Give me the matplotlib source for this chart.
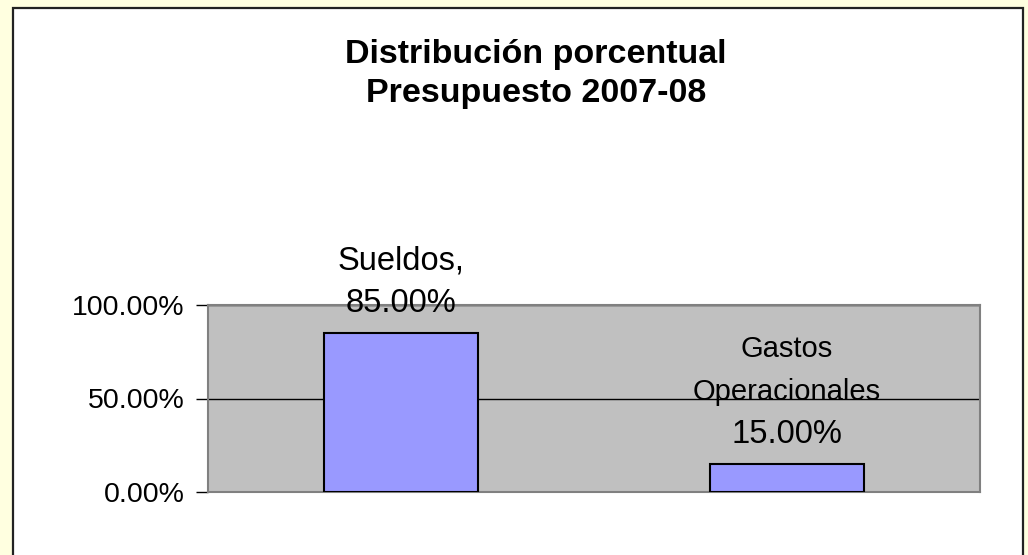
"""Distribución porcentual del presupuesto 2007-08."""
import matplotlib
matplotlib.use("Agg")
import matplotlib.pyplot as plt
from matplotlib.patches import Rectangle
from matplotlib.ticker import PercentFormatter

categorias = ["Sueldos,", "Gastos\nOperacionales"]
porcentajes = [0.85, 0.15]
ticks_y = [0.0, 0.5, 1.0]
titulo = ["Distribución porcentual", "Presupuesto 2007-08"]

W, H = 1028, 555
plt.rcParams["font.family"] = ["Liberation Sans", "DejaVu Sans"]

fig = plt.figure(figsize=(W / 100, H / 100), dpi=100, facecolor="#FFFFE0")

# white chart box with dark border (bottom edge runs off the picture)
fig.patches.append(Rectangle((12.5 / W, -0.05), (1023 - 12.5) / W, 1.05 - 8 / H,
                             transform=fig.transFigure, facecolor="white",
                             edgecolor="#222222", lw=1.6, zorder=-1))

ax = fig.add_axes([208 / W, 1 - 492 / H, (980 - 208) / W, (492 - 305) / H])
ax.set_facecolor("#C0C0C0")
ax.set_axisbelow(True)

x = range(len(categorias))
ax.bar(x, porcentajes, width=0.4, color="#9999FF", edgecolor="black", lw=1.5,
       zorder=2)
ax.set_xlim(-0.5, 1.5)
ax.set_ylim(0, 1)
ax.set_yticks(ticks_y)
ax.yaxis.set_major_formatter(PercentFormatter(1.0, decimals=2))
ax.tick_params(axis="y", length=9, width=1, color="black", pad=8,
               labelsize=20.5)
ax.tick_params(axis="x", length=0, labelbottom=False)
ax.yaxis.grid(True, color="black", lw=1)
for s in ax.spines.values():
    s.set_color("#808080")
    s.set_linewidth(1.5)
    s.set_zorder(1.5)

# data labels: value just above the bar, category name lines above it
for i, (cat, v) in enumerate(zip(categorias, porcentajes)):
    ax.annotate(f"{v * 100:.2f}%", (i, v), xytext=(0, 21),
                textcoords="offset pixels", ha="center", va="baseline",
                fontsize=23.5, zorder=5)
    lineas = cat.split("\n")
    size = 23.5 if len(lineas) == 1 else 21
    for k, txt in enumerate(reversed(lineas)):
        ax.annotate(txt, (i, v), xytext=(0, 21 + 43 * (k + 1)),
                    textcoords="offset pixels", ha="center", va="baseline",
                    fontsize=size, zorder=5)

for k, (txt, yb) in enumerate(zip(titulo, [63, 102])):
    fig.text(536 / W, 1 - yb / H, txt, ha="center", va="baseline",
             fontsize=24.5, fontweight="bold")

fig.savefig("out.png", dpi=100, facecolor=fig.get_facecolor())
